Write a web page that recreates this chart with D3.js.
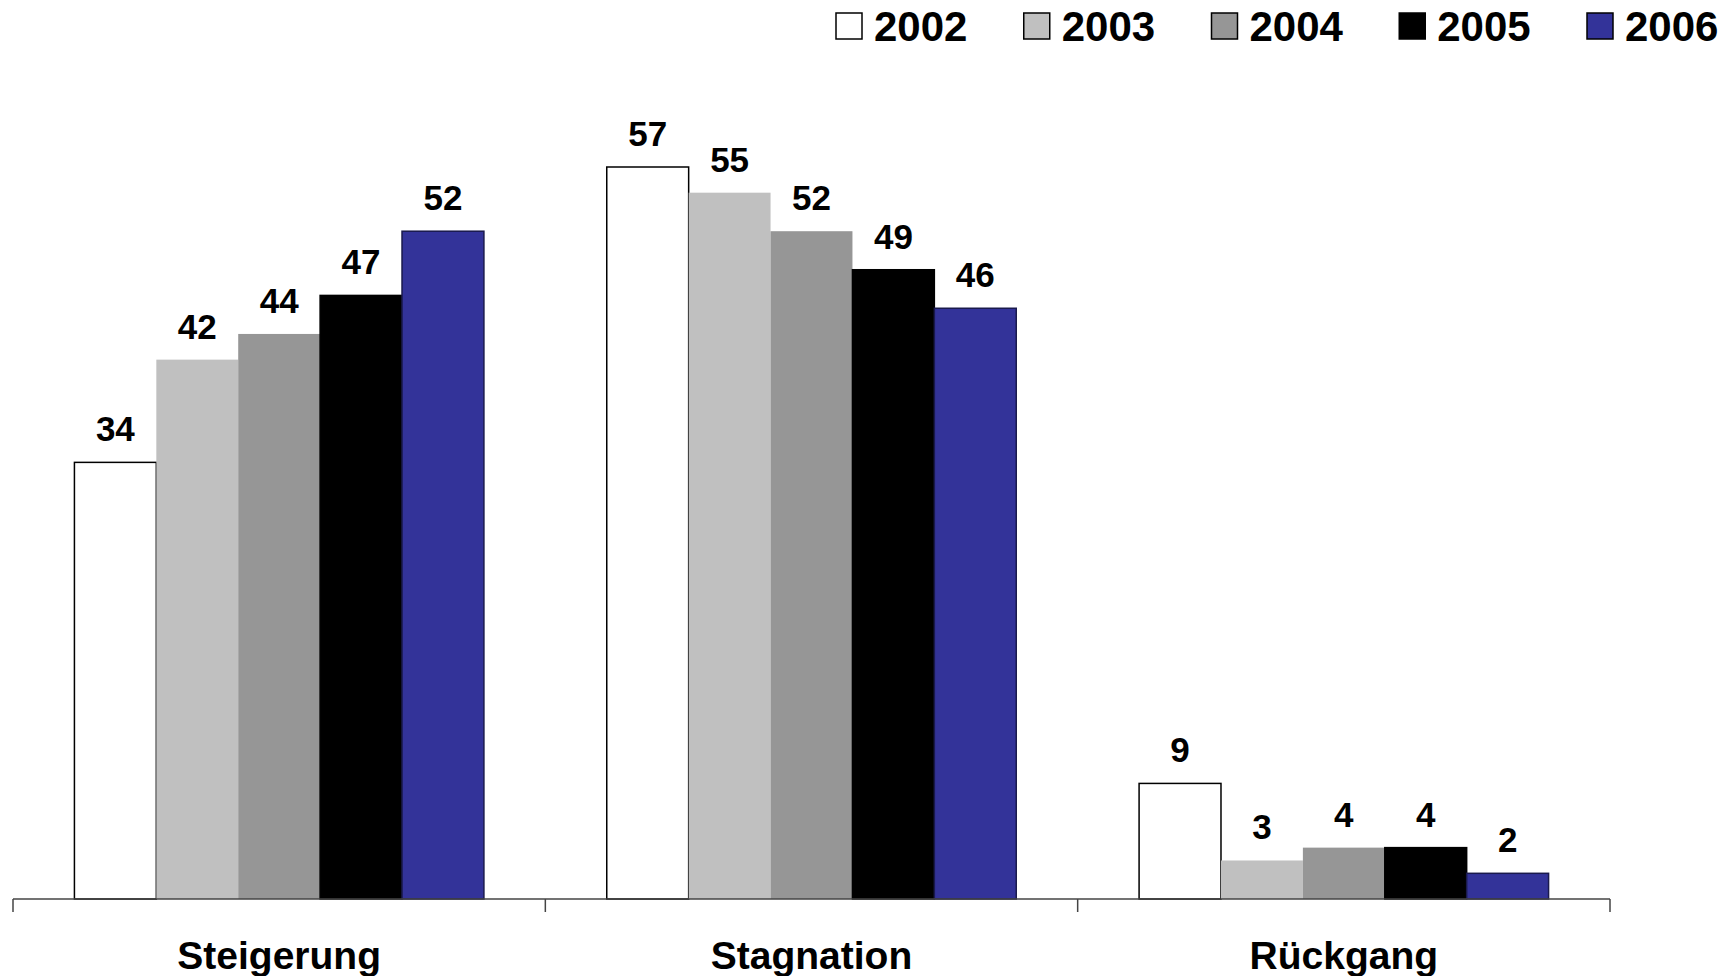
<!DOCTYPE html>
<html>
<head>
<meta charset="utf-8">
<script src="https://cdn.jsdelivr.net/npm/d3@7"></script>
<style>
  body { margin: 0; background: #fff; }
  svg { display: block; font-family: "Liberation Sans", Arial, sans-serif; font-weight: bold; }
</style>
</head>
<body>
<svg id="chart" width="1733" height="976"></svg>
<script>
var categories = ['Steigerung', 'Stagnation', 'Rückgang'];
var years = ['2002', '2003', '2004', '2005', '2006'];
var values2002 = [34, 57, 9];
var values2003 = [42, 55, 3];
var values2004 = [44, 52, 4];
var values2005 = [47, 49, 4];
var values2006 = [52, 46, 2];
var colors = ['#ffffff', '#c0c0c0', '#969696', '#000000', '#333399'];
var strokes = ['#000000', 'none', 'none', '#000000', '#1a1a4d'];

var series = [values2002, values2003, values2004, values2005, values2006];

var svg = d3.select('#chart');

var x0 = d3.scaleBand().domain(categories).range([13, 1610]).padding(0);
var x1 = d3.scaleBand().domain(years).range([0, x0.bandwidth()])
    .paddingInner(0).paddingOuter(0.75);
var y = d3.scaleLinear().domain([0, 57]).range([899, 167]);

var rows = categories.map(function(c, i) {
    return {
        cat: c,
        bars: years.map(function(yr, j) {
            return { year: yr, idx: j, value: series[j][i] };
        })
    };
});

var group = svg.selectAll('g.cat')
    .data(rows)
    .enter().append('g')
    .attr('class', 'cat')
    .attr('transform', function(d) { return 'translate(' + x0(d.cat) + ',0)'; });

group.selectAll('rect')
    .data(function(d) { return d.bars; })
    .enter().append('rect')
    .attr('x', function(d) { return x1(d.year); })
    .attr('y', function(d) { return y(d.value); })
    .attr('width', x1.bandwidth())
    .attr('height', function(d) { return y(0) - y(d.value); })
    .style('fill', function(d) { return colors[d.idx]; })
    .style('stroke', function(d) { return strokes[d.idx]; })
    .style('stroke-width', 1.5);

group.selectAll('text.val')
    .data(function(d) { return d.bars; })
    .enter().append('text')
    .attr('class', 'val')
    .attr('x', function(d) { return x1(d.year) + x1.bandwidth() / 2; })
    .attr('y', function(d) { return y(d.value) - 21; })
    .attr('text-anchor', 'middle')
    .style('font-size', '35px')
    .style('fill', '#000')
    .text(function(d) { return d.value; });

// x axis
var axis = svg.append('g')
    .attr('transform', 'translate(0,' + y(0) + ')');
axis.append('line')
    .attr('x1', x0.range()[0]).attr('x2', x0.range()[1])
    .style('stroke', '#444').style('stroke-width', 1.5);
var tickPos = categories.map(function(c) { return x0(c); }).concat([x0.range()[1]]);
axis.selectAll('line.tick')
    .data(tickPos)
    .enter().append('line')
    .attr('class', 'tick')
    .attr('x1', function(d) { return d; }).attr('x2', function(d) { return d; })
    .attr('y1', 0).attr('y2', 13)
    .style('stroke', '#444').style('stroke-width', 1.5);
axis.selectAll('text')
    .data(categories)
    .enter().append('text')
    .attr('x', function(d) { return x0(d) + x0.bandwidth() / 2; })
    .attr('y', 70)
    .attr('text-anchor', 'middle')
    .style('font-size', '39px')
    .style('fill', '#000')
    .text(function(d) { return d; });

// legend
var lx = d3.scalePoint().domain(years).range([836, 1587]);
var legend = svg.selectAll('g.legend')
    .data(years)
    .enter().append('g')
    .attr('class', 'legend')
    .attr('transform', function(d) { return 'translate(' + lx(d) + ',13)'; });
legend.append('rect')
    .attr('width', 26).attr('height', 26)
    .style('fill', function(d, i) { return colors[i]; })
    .style('stroke', '#000').style('stroke-width', 1.5);
legend.append('text')
    .attr('x', 38).attr('y', 28)
    .style('font-size', '42px')
    .style('fill', '#000')
    .text(function(d) { return d; });
</script>
</body>
</html>
